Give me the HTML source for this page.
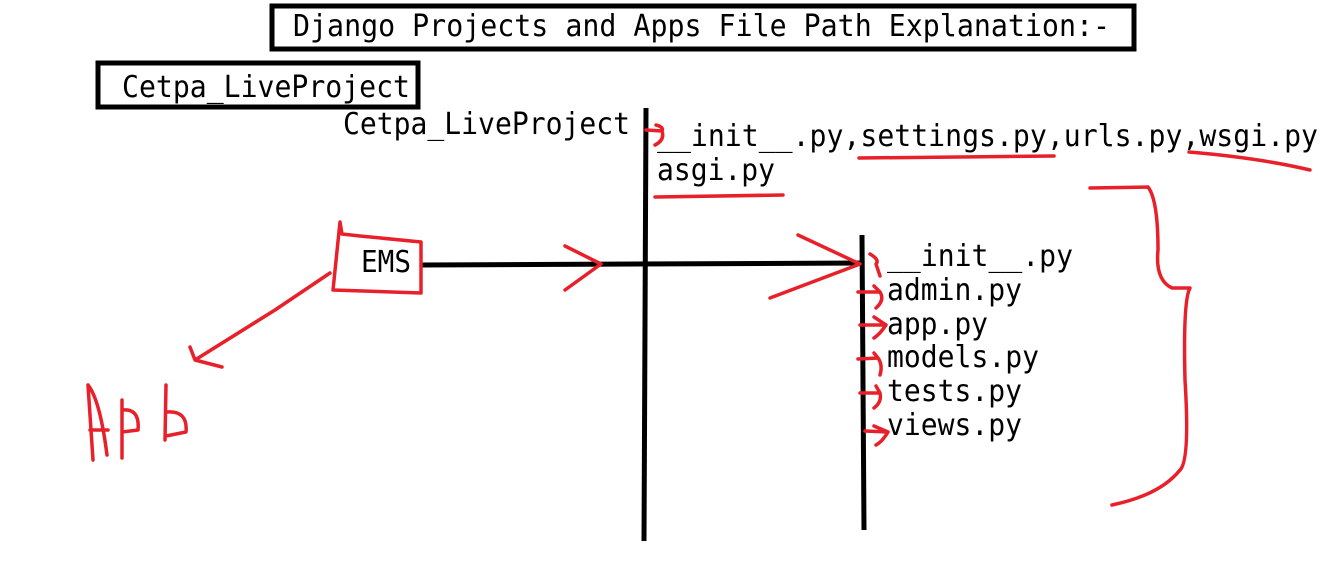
<!DOCTYPE html>
<html><head><meta charset="utf-8"><style>
html,body{margin:0;padding:0;background:#fff;width:1342px;height:569px;overflow:hidden}
text{font-family:"DejaVu Sans Mono","Liberation Mono",monospace;fill:#000}
</style></head><body>
<svg width="1342" height="569" viewBox="0 0 1342 569" xmlns="http://www.w3.org/2000/svg">
<rect x="272" y="6" width="862" height="43" fill="none" stroke="#000" stroke-width="5"/>
<text x="293" y="36" font-size="30" textLength="817" lengthAdjust="spacingAndGlyphs">Django Projects and Apps File Path Explanation:-</text>
<rect x="98" y="63" width="320" height="44" fill="none" stroke="#000" stroke-width="5"/>
<text x="122" y="97" font-size="30" textLength="288" lengthAdjust="spacingAndGlyphs">Cetpa_LiveProject</text>
<text x="343" y="134" font-size="30" textLength="287" lengthAdjust="spacingAndGlyphs">Cetpa_LiveProject</text>
<text x="657" y="146" font-size="30" textLength="661" lengthAdjust="spacingAndGlyphs">__init__.py,settings.py,urls.py,wsgi.py</text>
<text x="657" y="180" font-size="30" textLength="118" lengthAdjust="spacingAndGlyphs">asgi.py</text>
<text x="361" y="272" font-size="30" textLength="50" lengthAdjust="spacingAndGlyphs">EMS</text>
<g font-size="30">
<text x="887" y="266" textLength="186" lengthAdjust="spacingAndGlyphs">__init__.py</text>
<text x="887" y="300" textLength="135" lengthAdjust="spacingAndGlyphs">admin.py</text>
<text x="887" y="334" textLength="101" lengthAdjust="spacingAndGlyphs">app.py</text>
<text x="887" y="367" textLength="152" lengthAdjust="spacingAndGlyphs">models.py</text>
<text x="887" y="401" textLength="135" lengthAdjust="spacingAndGlyphs">tests.py</text>
<text x="887" y="435" textLength="135" lengthAdjust="spacingAndGlyphs">views.py</text>
</g>
<g stroke="#000" stroke-width="5" fill="none">
<line x1="646" y1="108" x2="644" y2="541"/>
<line x1="862" y1="235" x2="864" y2="530"/>
<line x1="422" y1="265" x2="863" y2="263"/>
</g>
<g stroke="#e8202a" stroke-width="3.5" fill="none" stroke-linecap="round" stroke-linejoin="round">
<path d="M340,222 L333,290 L421,293 L421,242 L360,236 L342,234 Z"/>
<path d="M565,246 L601,264 L565,290"/>
<path d="M798,235 L860,264 L770,298"/>
<path d="M330,273 L275,310 L195,360 M190,347 L195,360 L222,367"/>
<path d="M88,385 L93,460 M88,385 Q100,400 107,455 M90,430 L108,430 M122,400 L122,458 M122,410 Q140,408 138,430 L122,432 M166,385 L165,440 M166,412 Q188,410 186,432 L166,436"/>
<path d="M1090,188 L1148,187 Q1158,200 1158,250 Q1155,280 1172,288 L1190,288 Q1183,300 1185,380 Q1190,460 1180,470 Q1160,495 1112,505"/>
<path d="M859,158 L1054,156"/>
<path d="M1189,152 Q1260,158 1310,170"/>
<path d="M655,197 L783,195"/>
<path d="M646,130 L662,131 Q665,140 655,145 M656,125 Q664,127 662,131"/>
<path d="M858,292 L880,292 Q885,300 876,308 M874,286 L880,292"/>
<path d="M860,325 L886,325 Q880,334 874,338 M874,317 L886,325"/>
<path d="M858,359 L878,358 Q883,365 880,375 M874,353 L878,358"/>
<path d="M860,393 L880,393 Q882,402 874,408 M876,386 L880,393"/>
<path d="M865,431 L888,432 Q882,442 876,445 M874,426 L888,432"/>
<path d="M870,254 Q880,260 876,264 L880,276"/>
</g>
</svg>
</body></html>
